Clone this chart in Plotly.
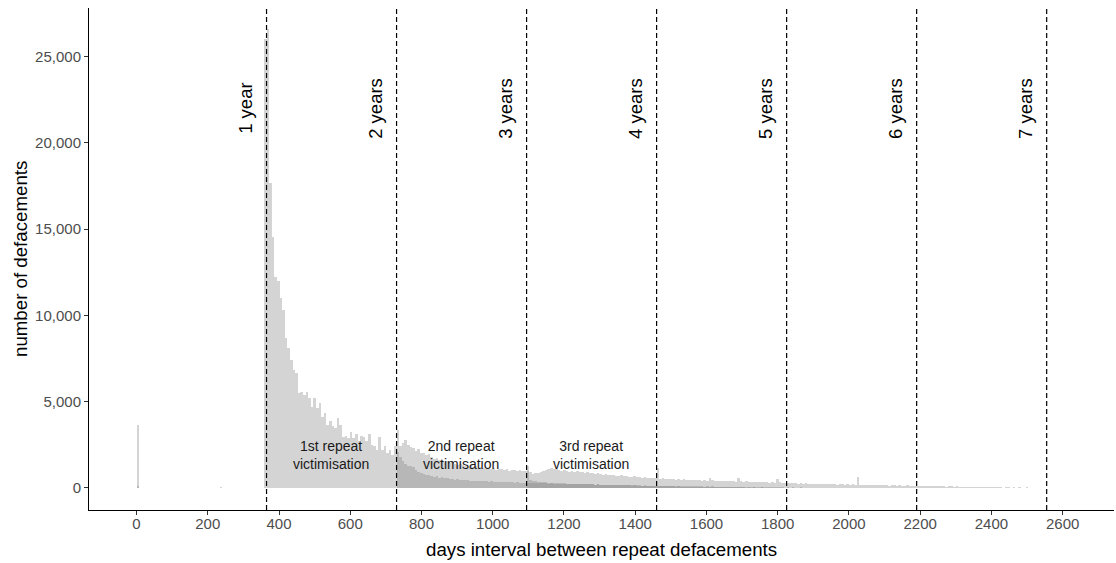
import plotly.graph_objects as go

# bins are 365/50 = 7.3 days wide; bin i covers [i*BINW, (i+1)*BINW)
BINW = 365 / 50

# ---- 1st repeat victimisation ----
s1_extra_bins = [0, 32]            # bin index
s1_extra = [3650, 60]
s1_first_bin = 49                  # day 357.7
s1_main = [
    26000,
    # 365 - 723
    26570, 17690, 14560, 12240, 12000, 11020, 10325, 8700, 8120, 7420, 6840, 6670, 5510,
    5570, 5400, 5570, 5220, 4700, 5220, 4640, 4930, 4120, 4350, 3650, 3900, 3600,
    3500, 4060, 3650, 2960, 3020, 2900, 3250, 2900, 3130, 2710, 3020, 2960, 2710,
    3130, 2490, 2420, 2230, 2960, 2230, 2420, 2030, 2230, 1930, 2420,
    # 730 - 1088
    3350, 2450, 2600, 2780, 2500, 2350, 2300, 2150, 2250, 2000, 2050, 1900, 1950,
    1800, 1700, 1750, 1600, 1650, 1500, 1550, 1450, 1500, 1400, 1350, 1400,
    1330, 1300, 1250, 1300, 1200, 1250, 1160, 1200, 1150, 1100, 1120, 1100,
    1160, 1050, 1100, 1080, 1040, 1100, 1000, 1050, 1020, 980, 1040, 1000, 960,
    # 1095 - 1453
    1280, 900, 800, 880, 850, 950, 1000, 1050, 1100, 1160, 1080, 1120,
    1040, 1000, 1060, 980, 950, 1000, 920, 960, 900, 940, 880, 900, 850,
    870, 820, 850, 800, 780, 820, 760, 740, 780, 720, 700, 740, 680,
    700, 660, 640, 680, 620, 640, 600, 620, 580, 600, 560, 580,
    # 1460 - 1818
    1150,
    540, 560, 520, 540, 500, 530, 480, 510, 470, 500, 460, 490, 450,
    470, 440, 460, 430, 450, 420, 580, 440, 410, 430, 400, 420, 390,
    410, 380, 400, 370, 560, 390, 360, 380, 350, 370, 340, 360, 330,
    350, 320, 340, 310, 330, 300, 520, 320, 290, 300,
    # 1825 - 2183
    280, 300, 270, 290, 260, 280, 250, 270, 240, 260, 230, 250, 220,
    240, 230, 220, 240, 210, 230, 200, 220, 210, 200, 220, 190, 210,
    180, 640, 200, 190, 180, 170, 180, 160, 170, 180, 150, 160, 170,
    140, 160, 150, 140, 150, 130, 140, 150, 120, 130, 140,
    # 2190 - 2511
    110, 120, 130, 110, 120, 100, 110, 120, 90, 100, 110, 80, 100,
    90, 70, 90, 80, 60, 80, 70, 60, 80, 50, 70, 60, 40,
    60, 50, 40, 50, 30, 50, 40, 0, 40, 30, 20, 40, 0,
    30, 20, 0, 30, 20, 15,
]

# ---- 2nd repeat victimisation ----
s2_extra_bins = [0]
s2_extra = [120]
s2_first_bin = 100                 # day 730
s2_main = [
    2100, 1800, 1550, 1400, 1300, 1250, 1200, 1050, 950, 880, 800, 760, 740,
    720, 660, 670, 600, 620, 560, 580, 520, 540, 490, 510, 460, 470,
    440, 460, 420, 430, 400, 410, 390, 380, 400, 360, 380, 350, 360,
    340, 350, 330, 340, 320, 330, 310, 320, 300, 310, 300, 290, 300,
    290, 280, 290, 270, 280, 270, 260, 270, 260, 250, 260, 250, 240,
    250, 240, 230, 240, 230, 220, 230, 220, 210, 220, 210, 200, 210,
    200, 190, 200, 190, 180, 190, 180, 170, 180, 170, 160, 170, 160,
    150, 160, 150, 140, 150, 140, 130, 140, 130, 120, 130, 120, 110,
    120, 110, 120, 110, 100, 110, 100, 110, 100, 90, 100, 90, 100,
    90, 80, 90, 80, 90, 80, 70, 80, 70, 80, 70, 60, 70,
    60, 70, 60, 50, 60, 50, 60, 50, 40, 50, 40, 50, 40,
    40, 30, 40, 30, 40, 30, 20, 30, 20, 30, 20, 20, 30,
    20, 20, 10, 20, 20, 10, 20, 10, 10, 20, 10, 10, 10,
    10, 10, 0, 10, 10, 0, 10, 0, 10, 0, 0, 10, 0,
]

# ---- 3rd repeat victimisation ----
s3_extra_bins = []
s3_extra = []
s3_first_bin = 150                 # day 1095
s3_main = [
    1000, 450, 400, 380, 360, 340, 330, 320, 310, 300, 300, 290, 280,
    270, 280, 260, 250, 260, 240, 250, 230, 240, 220, 230, 210, 220,
    200, 210, 190, 200, 180, 190, 170, 180, 160, 170, 160, 150, 160,
    150, 140, 150, 130, 140, 130, 120, 130, 120, 110, 120, 110, 100,
    110, 100, 90, 100, 90, 80, 90, 80, 70, 80, 70, 80, 70,
    60, 70, 60, 50, 60, 50, 60, 50, 40, 50, 40, 50, 40,
    40, 30, 40, 30, 40, 30, 20, 30, 20, 30, 20, 20, 30,
    20, 20, 10, 20, 20, 10, 20, 10, 10, 20, 10, 10, 10,
]

year_lines = [365, 730, 1095, 1460, 1825, 2190, 2555]
year_labels = ["1 year", "2 years", "3 years", "4 years", "5 years", "6 years", "7 years"]
repeat_labels = ["1st repeat<br>victimisation", "2nd repeat<br>victimisation", "3rd repeat<br>victimisation"]
repeat_x = [545, 910, 1275]
repeat_y = 1900
year_label_y = 22000
xticks = list(range(0, 2601, 200))
yticks = list(range(0, 25001, 5000))

FILL = "rgba(128,128,128,0.34)"
FONT = "Liberation Sans, Arial, sans-serif"


def series(extra_bins, extra_vals, first_bin, main_vals):
    idx = list(extra_bins) + [first_bin + i for i in range(len(main_vals))]
    centres = [(i + 0.5) * BINW for i in idx]
    return centres, list(extra_vals) + list(main_vals)


fig = go.Figure()
for args in [
    (s1_extra_bins, s1_extra, s1_first_bin, s1_main),
    (s2_extra_bins, s2_extra, s2_first_bin, s2_main),
    (s3_extra_bins, s3_extra, s3_first_bin, s3_main),
]:
    cx, cy = series(*args)
    fig.add_trace(go.Bar(x=cx, y=cy, width=BINW,
                         marker=dict(color=FILL, line=dict(width=0)),
                         hoverinfo="skip"))

for xv in year_lines:
    fig.add_shape(type="line", x0=xv, x1=xv, xref="x", y0=0, y1=1, yref="paper",
                  line=dict(color="black", width=1.2, dash="5px,3px"), layer="above")

for xv, lab in zip(year_lines, year_labels):
    fig.add_annotation(x=xv, y=year_label_y, text=lab, textangle=-90, showarrow=False,
                       xshift=-21, xanchor="center", yanchor="middle",
                       font=dict(family=FONT, size=18.5, color="black"))

for xv, lab in zip(repeat_x, repeat_labels):
    fig.add_annotation(x=xv, y=repeat_y, text=lab, showarrow=False,
                       xanchor="center", yanchor="middle",
                       font=dict(family=FONT, size=14, color="#1a1a1a"))

# axis titles
fig.add_annotation(x=0.5, y=0, xref="paper", yref="paper", yshift=-39,
                   text="days interval between repeat defacements", showarrow=False,
                   xanchor="center", yanchor="middle",
                   font=dict(family=FONT, size=18.7, color="black"))
fig.add_annotation(x=0, y=0.5, xref="paper", yref="paper", xshift=-69,
                   text="number of defacements", showarrow=False, textangle=-90,
                   xanchor="center", yanchor="middle",
                   font=dict(family=FONT, size=18.7, color="black"))

fig.update_layout(
    width=1116, height=563,
    margin=dict(l=89, r=2, t=8, b=53, autoexpand=False),
    plot_bgcolor="white", paper_bgcolor="white",
    barmode="overlay", bargap=0, showlegend=False,
    font=dict(family=FONT),
)
fig.update_xaxes(
    range=[-133.4, 2744], tickvals=xticks, showline=True, linecolor="black", linewidth=1,
    ticks="outside", ticklen=4, tickcolor="#333333", showgrid=False, zeroline=False,
    automargin=False, ticklabelstandoff=-4,
    tickfont=dict(family=FONT, size=15, color="#4d4d4d"),
)
fig.update_yaxes(
    range=[-1275, 27810], tickvals=yticks, tickformat=",", showline=True, linecolor="black",
    linewidth=1, ticks="outside", ticklen=4, tickcolor="#333333", showgrid=False, zeroline=False,
    automargin=False,
    tickfont=dict(family=FONT, size=15, color="#4d4d4d"),
)

fig.write_html("out.html", config={"displayModeBar": False},
               post_script="document.body.style.margin='0';document.body.style.overflow='hidden';")
